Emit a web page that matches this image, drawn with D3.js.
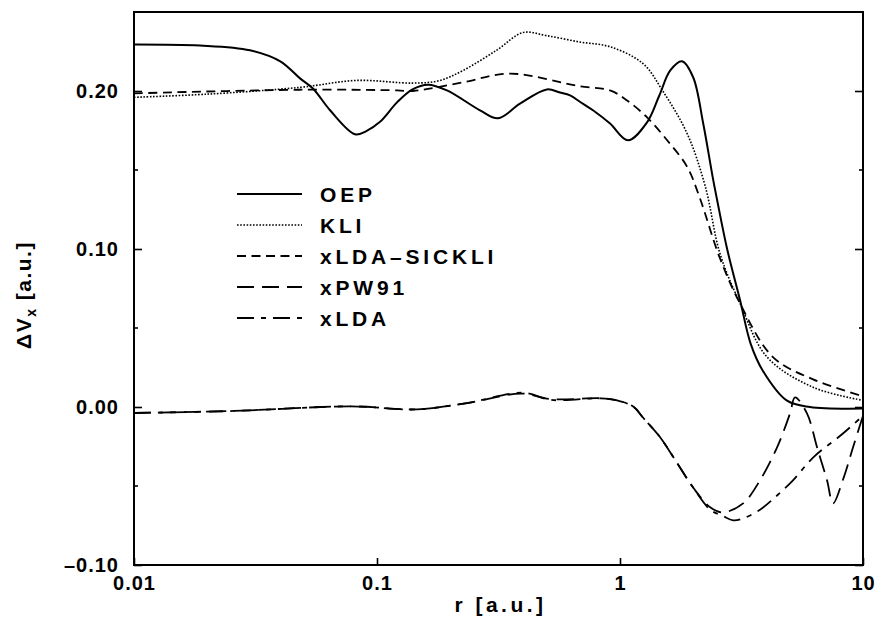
<!DOCTYPE html>
<html>
<head>
<meta charset="utf-8">
<script src="https://cdn.jsdelivr.net/npm/d3@7"></script>
<style>
  html, body { margin: 0; padding: 0; background: #fff; }
  svg text { font-family: "Liberation Sans", Arial, Helvetica, sans-serif; font-weight: bold; fill: #000; }
</style>
</head>
<body>
<svg id="chart" width="877" height="620"></svg>
<script>
// Exchange-potential difference ΔVx versus radius r (log scale)
const oep = [
  [0.01, 0.2295], [0.0187, 0.2288], [0.030, 0.2258], [0.040, 0.2188], [0.0482, 0.208],
  [0.0545, 0.2016], [0.0641, 0.1878], [0.0812, 0.1726], [0.09, 0.1745], [0.1029, 0.1805],
  [0.1209, 0.1928], [0.14, 0.201], [0.162, 0.204], [0.194, 0.2004], [0.2654, 0.1878],
  [0.315, 0.1827], [0.3877, 0.192], [0.50, 0.201], [0.566, 0.199], [0.623, 0.1972],
  [0.684, 0.1932], [0.774, 0.1878], [0.91, 0.1794], [1.079, 0.1688], [1.29, 0.180],
  [1.45, 0.197], [1.61, 0.213], [1.80, 0.2188], [2.0, 0.2087], [2.20, 0.1794],
  [2.41, 0.145], [2.51, 0.131], [2.76, 0.100], [3.12, 0.0675], [3.45, 0.040],
  [3.87, 0.023], [4.87, 0.004], [6.05, 0.0], [10, -0.001]
];
const kli = [
  [0.01, 0.196], [0.02, 0.198], [0.0482, 0.2023], [0.0828, 0.2067], [0.1406, 0.205],
  [0.18, 0.2065], [0.226, 0.213], [0.312, 0.226], [0.399, 0.237], [0.5, 0.235],
  [0.684, 0.231], [0.91, 0.228], [1.24, 0.2175], [1.50, 0.200], [1.89, 0.173],
  [2.24, 0.14], [2.58, 0.097], [3.12, 0.0655], [4.03, 0.0316], [6.23, 0.0125], [10, 0.0042]
];
const sickli = [
  [0.01, 0.1985], [0.048, 0.2008], [0.121, 0.2004], [0.1406, 0.200], [0.226, 0.2055],
  [0.353, 0.211], [0.684, 0.203], [0.91, 0.2004], [1.07, 0.194], [1.29, 0.1834],
  [1.56, 0.169], [1.89, 0.152], [2.13, 0.1323], [2.58, 0.094], [3.12, 0.0655],
  [4.26, 0.0316], [6.23, 0.0175], [10, 0.0068]
];
const pw91 = [
  [0.01, -0.0038], [0.0258, -0.0025], [0.0781, 0.0004], [0.146, -0.0015], [0.2346, 0.0025],
  [0.392, 0.0085], [0.52, 0.005], [0.835, 0.0055], [0.972, 0.0042], [1.14, 0.0],
  [1.24, -0.0065], [1.46, -0.019], [1.72, -0.0356], [2.0, -0.051], [2.35, -0.0635],
  [2.65, -0.0667], [3.21, -0.061], [3.77, -0.0464], [4.43, -0.0255], [5.01, -0.004],
  [5.25, 0.0061], [5.88, -0.004], [6.47, -0.0255], [7.11, -0.0464], [7.53, -0.061],
  [8.27, -0.046], [9.10, -0.0255], [10, -0.0055]
];
const lda = [
  [0.01, -0.0038], [0.0258, -0.0025], [0.0781, 0.0004], [0.146, -0.0015], [0.2346, 0.0025],
  [0.40, 0.0090], [0.52, 0.0045], [0.835, 0.0055], [0.972, 0.0042], [1.14, 0.0],
  [1.24, -0.0065], [1.46, -0.019], [1.72, -0.0356], [2.0, -0.051], [2.35, -0.065],
  [2.65, -0.069], [2.92, -0.0717], [3.21, -0.0705], [3.77, -0.065], [4.43, -0.056],
  [5.15, -0.0464], [6.23, -0.032], [8.27, -0.0168], [10, -0.0055]
];

const seriesNames = ["OEP", "KLI", "xLDA\u2013SICKLI", "xPW91", "xLDA"];
const seriesData = [oep, kli, sickli, pw91, lda];
const seriesDash = [null, "1.6,1.6", "9,5.5", "17,8", "17,7,5,7"];
const seriesWidth = [2, 1.6, 1.8, 1.8, 1.8];

const xTickValues = [0.01, 0.1, 1, 10];
const xTickLabels = ["0.01", "0.1", "1", "10"];
const yTickValues = [-0.10, 0.00, 0.10, 0.20];
const yTickLabels = ["\u20130.10", "0.00", "0.10", "0.20"];
const yMinorTicks = [-0.05, 0.05, 0.15];

const svg = d3.select("#chart");
const plotL = 134, plotR = 863, plotT = 12, plotB = 565;

const x = d3.scaleLog().domain([0.01, 10]).range([plotL, plotR]);
const y = d3.scaleLinear().domain([-0.10, 0.25]).range([plotB, plotT]);

// curves
const line = d3.line().x(d => x(d[0])).y(d => y(d[1])).curve(d3.curveCatmullRom.alpha(0.5));
const g = svg.append("g");
seriesData.forEach((data, i) => {
  g.append("path")
    .attr("d", line(data))
    .attr("fill", "none")
    .attr("stroke", "#000")
    .attr("stroke-width", seriesWidth[i])
    .attr("stroke-dasharray", seriesDash[i]);
});

// frame
svg.append("rect")
  .attr("x", plotL).attr("y", plotT)
  .attr("width", plotR - plotL).attr("height", plotB - plotT)
  .attr("fill", "none").attr("stroke", "#000").attr("stroke-width", 2);

// bottom axis (ticks pointing inward)
const xAxis = d3.axisBottom(x).tickValues(xTickValues)
  .tickFormat((d, i) => xTickLabels[i]).tickSizeInner(-7).tickSizeOuter(0).tickPadding(11);
const gx = svg.append("g").attr("transform", `translate(0,${plotB})`).call(xAxis);
gx.select(".domain").remove();
gx.selectAll(".tick line").attr("stroke", "#000").attr("stroke-width", 1.6);
gx.selectAll("text").attr("font-size", 20).attr("font-family", null)
  .attr("letter-spacing", 1).attr("dy", "0.71em");

// left axis
const yAxis = d3.axisLeft(y).tickValues(yTickValues)
  .tickFormat((d, i) => yTickLabels[i]).tickSizeInner(-8).tickSizeOuter(0).tickPadding(15);
const gy = svg.append("g").attr("transform", `translate(${plotL},0)`).call(yAxis);
gy.select(".domain").remove();
gy.selectAll(".tick line").attr("stroke", "#000").attr("stroke-width", 1.6);
gy.selectAll("text").attr("font-size", 20).attr("font-family", null).attr("letter-spacing", 1);

// right axis ticks
const yAxisR = d3.axisRight(y).tickValues(yTickValues).tickFormat("").tickSizeInner(-8).tickSizeOuter(0);
const gyr = svg.append("g").attr("transform", `translate(${plotR},0)`).call(yAxisR);
gyr.select(".domain").remove();
gyr.selectAll(".tick line").attr("stroke", "#000").attr("stroke-width", 1.6);

// minor y ticks on both sides
[[plotL, 4], [plotR, -4]].forEach(([px, len]) => {
  svg.append("g").selectAll("line").data(yMinorTicks).join("line")
    .attr("x1", px).attr("x2", px + len)
    .attr("y1", d => y(d)).attr("y2", d => y(d))
    .attr("stroke", "#000").attr("stroke-width", 1.6);
});

// axis titles
svg.append("text")
  .attr("x", (plotL + plotR) / 2 + 2).attr("y", 612)
  .attr("text-anchor", "middle").attr("font-size", 21)
  .attr("letter-spacing", 3.5)
  .text("r [a.u.]");

const yt = svg.append("text")
  .attr("transform", `translate(31,295) rotate(-90)`)
  .attr("text-anchor", "middle").attr("font-size", 21)
  .attr("letter-spacing", 1.5);
yt.append("tspan").text("\u0394V");
yt.append("tspan").attr("font-size", 14).attr("dy", 5).text("x");
yt.append("tspan").attr("dy", -5).text(" [a.u.]");

// legend
const lg = svg.append("g");
seriesNames.forEach((name, i) => {
  const ly = 194 + i * 31;
  lg.append("line")
    .attr("x1", 237).attr("x2", 302).attr("y1", ly).attr("y2", ly)
    .attr("stroke", "#000").attr("stroke-width", seriesWidth[i])
    .attr("stroke-dasharray", seriesDash[i]);
  lg.append("text")
    .attr("x", 320).attr("y", ly).attr("dy", "0.36em")
    .attr("font-size", 21).attr("letter-spacing", 3.8)
    .text(name);
});
</script>
</body>
</html>
